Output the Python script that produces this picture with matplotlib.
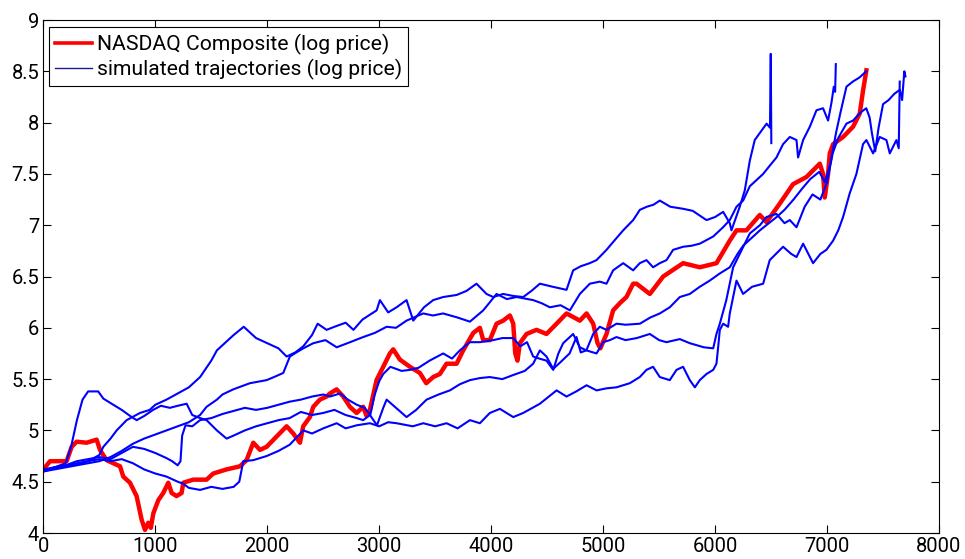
import matplotlib
matplotlib.use("Agg")
import matplotlib.pyplot as plt
from matplotlib.ticker import FormatStrFormatter

# NASDAQ composite, log price
nasdaq_x = [0, 60, 208, 253, 298, 387, 476, 506, 565, 625, 685, 714, 774, 833, 878, 908,
            937, 960, 982, 1027, 1071, 1116, 1146, 1190, 1235, 1250, 1339, 1458, 1518,
            1637, 1756, 1815, 1875, 1935, 1994, 2083, 2173, 2232, 2292, 2321, 2381, 2411,
            2470, 2530, 2560, 2619, 2679, 2738, 2798, 2857, 2887, 2917, 2976, 3036, 3095,
            3125, 3185, 3274, 3363, 3420, 3482, 3542, 3601, 3691, 3750, 3840, 3899, 3929,
            3988, 4048, 4107, 4167, 4197, 4215, 4235, 4256, 4316, 4405, 4494, 4584, 4673,
            4792, 4852, 4911, 4950, 4975, 5030, 5089, 5149, 5208, 5268, 5298, 5417, 5536,
            5714, 5863, 6012, 6131, 6191, 6280, 6399, 6459, 6577, 6696, 6816, 6935, 6964,
            6979, 7009, 7024, 7054, 7143, 7232, 7292, 7321, 7351]
nasdaq_y = [4.62, 4.70, 4.70, 4.84, 4.89, 4.88, 4.91, 4.81, 4.71, 4.68, 4.65, 4.55, 4.49,
            4.36, 4.13, 4.03, 4.10, 4.05, 4.19, 4.32, 4.39, 4.49, 4.39, 4.36, 4.39, 4.49,
            4.52, 4.52, 4.58, 4.62, 4.65, 4.71, 4.88, 4.81, 4.84, 4.94, 5.04, 4.97, 4.88,
            5.04, 5.13, 5.23, 5.30, 5.33, 5.36, 5.40, 5.33, 5.23, 5.17, 5.23, 5.14, 5.20,
            5.49, 5.62, 5.75, 5.79, 5.69, 5.62, 5.56, 5.46, 5.52, 5.55, 5.65, 5.65, 5.78,
            5.95, 6.00, 5.88, 5.88, 6.04, 6.07, 6.12, 6.04, 5.75, 5.68, 5.85, 5.94, 5.98,
            5.94, 6.04, 6.14, 6.07, 6.14, 6.04, 5.85, 5.80, 5.94, 6.17, 6.24, 6.30, 6.43,
            6.43, 6.33, 6.50, 6.63, 6.59, 6.63, 6.85, 6.95, 6.95, 7.10, 7.03, 7.21, 7.40,
            7.47, 7.60, 7.50, 7.27, 7.50, 7.70, 7.79, 7.86, 7.96, 8.09, 8.31, 8.51]

# simulated trajectories, log price
sim1_x = [0, 100, 200, 300, 400, 500, 536, 600, 655, 744, 863, 950, 1000, 1100, 1200, 1300,
          1400, 1500, 1550, 1600, 1700, 1790, 1850, 1900, 2000, 2100, 2173, 2250, 2322,
          2400, 2450, 2530, 2600, 2700, 2770, 2850, 2920, 2977, 3006, 3080, 3155, 3244,
          3304, 3400, 3482, 3571, 3691, 3780, 3869, 3958, 4018, 4107, 4200, 4286, 4360,
          4435, 4550, 4673, 4732, 4800, 4880, 4941, 5030, 5100, 5179, 5268, 5328, 5390,
          5450, 5506, 5600, 5714, 5800, 5923, 6000, 6072, 6131, 6146, 6220, 6265, 6310,
          6354, 6400, 6460, 6490, 6497, 6502]
sim1_y = [4.62, 4.64, 4.66, 4.68, 4.70, 4.76, 4.84, 4.92, 5.00, 5.10, 5.17, 5.20, 5.25,
          5.30, 5.36, 5.42, 5.52, 5.68, 5.78, 5.83, 5.93, 6.01, 5.95, 5.90, 5.85, 5.80,
          5.72, 5.76, 5.82, 5.93, 6.04, 5.98, 6.01, 6.05, 5.98, 6.08, 6.13, 6.17, 6.27,
          6.15, 6.20, 6.27, 6.07, 6.20, 6.27, 6.30, 6.32, 6.36, 6.43, 6.33, 6.30, 6.33,
          6.31, 6.30, 6.36, 6.43, 6.40, 6.37, 6.56, 6.60, 6.63, 6.66, 6.76, 6.85, 6.95,
          7.05, 7.15, 7.18, 7.20, 7.24, 7.18, 7.16, 7.14, 7.05, 7.08, 7.13, 7.02, 6.95,
          7.18, 7.34, 7.63, 7.83, 7.90, 7.99, 7.95, 8.67, 7.80]

sim2_x = [0, 100, 200, 300, 400, 500, 600, 700, 800, 900, 1000, 1100, 1200, 1300, 1400,
          1458, 1550, 1600, 1696, 1845, 1994, 2060, 2143, 2202, 2260, 2322, 2411, 2520,
          2620, 2740, 2857, 2960, 3066, 3150, 3244, 3393, 3480, 3571, 3700, 3810, 3929,
          4048, 4140, 4227, 4375, 4450, 4524, 4620, 4703, 4792, 4881, 4970, 5030, 5089,
          5179, 5268, 5327, 5387, 5446, 5506, 5566, 5625, 5714, 5790, 5863, 5983, 6071,
          6131, 6191, 6250, 6310, 6370, 6429, 6488, 6548, 6607, 6667, 6727, 6741, 6786,
          6846, 6905, 6964, 7009, 7040, 7060, 7072, 7078]
sim2_y = [4.60, 4.62, 4.64, 4.66, 4.68, 4.70, 4.74, 4.80, 4.87, 4.92, 4.96, 5.00, 5.04,
          5.08, 5.15, 5.23, 5.30, 5.35, 5.40, 5.46, 5.49, 5.52, 5.56, 5.72, 5.76, 5.80,
          5.85, 5.88, 5.81, 5.86, 5.91, 5.95, 6.01, 6.00, 6.07, 6.14, 6.12, 6.14, 6.10,
          6.06, 6.17, 6.33, 6.28, 6.30, 6.27, 6.24, 6.20, 6.22, 6.17, 6.33, 6.43, 6.45,
          6.43, 6.56, 6.63, 6.56, 6.63, 6.66, 6.59, 6.63, 6.66, 6.76, 6.79, 6.80, 6.82,
          6.89, 6.98, 7.05, 7.18, 7.24, 7.38, 7.44, 7.50, 7.58, 7.66, 7.79, 7.86, 7.83,
          7.66, 7.83, 7.96, 8.12, 8.14, 8.02, 8.20, 8.35, 8.30, 8.57]

sim3_x = [0, 100, 200, 300, 400, 500, 600, 700, 800, 900, 1000, 1100, 1150, 1200, 1225,
          1240, 1270, 1330, 1400, 1500, 1600, 1700, 1800, 1900, 2000, 2100, 2200, 2300,
          2400, 2500, 2560, 2650, 2720, 2800, 2870, 2920, 2960, 3000, 3036, 3100, 3200,
          3274, 3350, 3450, 3571, 3650, 3720, 3810, 3900, 4018, 4100, 4197, 4260, 4320,
          4375, 4430, 4494, 4554, 4600, 4643, 4732, 4792, 4850, 4911, 4970, 5030, 5119,
          5200, 5328, 5420, 5506, 5595, 5685, 5774, 5863, 5952, 6042, 6131, 6200, 6250,
          6330, 6400, 6480, 6550, 6620, 6700, 6780, 6850, 6930, 6980, 7030, 7080, 7120,
          7173, 7230, 7290, 7350]
sim3_y = [4.61, 4.64, 4.66, 4.70, 4.72, 4.74, 4.72, 4.78, 4.84, 4.82, 4.78, 4.73, 4.70,
          4.66, 4.70, 4.95, 5.05, 5.04, 5.10, 5.12, 5.16, 5.19, 5.22, 5.20, 5.22, 5.25,
          5.28, 5.30, 5.33, 5.35, 5.33, 5.36, 5.30, 5.25, 5.22, 5.15, 5.35, 5.48, 5.55,
          5.62, 5.58, 5.59, 5.61, 5.68, 5.75, 5.70, 5.78, 5.86, 5.86, 5.88, 5.90, 5.90,
          5.82, 5.86, 5.72, 5.70, 5.68, 5.59, 5.75, 5.85, 5.94, 5.81, 5.78, 5.94, 6.01,
          5.98, 6.04, 6.03, 6.04, 6.10, 6.14, 6.20, 6.30, 6.33, 6.40, 6.46, 6.53, 6.59,
          6.72, 6.80, 6.88, 6.95, 7.02, 7.08, 7.15, 7.25, 7.36, 7.45, 7.52, 7.42, 7.60,
          7.90, 8.10, 8.35, 8.40, 8.44, 8.50]

sim4_x = [0, 100, 200, 250, 300, 350, 400, 490, 536, 610, 700, 789, 834, 900, 980, 1050,
          1130, 1200, 1280, 1330, 1400, 1458, 1550, 1637, 1700, 1800, 1900, 2000, 2100,
          2200, 2300, 2400, 2500, 2600, 2700, 2800, 2857, 2917, 2980, 3036, 3066, 3150,
          3244, 3330, 3423, 3530, 3631, 3720, 3810, 3899, 3988, 4100, 4197, 4300, 4375,
          4435, 4494, 4554, 4614, 4700, 4762, 4800, 4850, 4941, 5000, 5060, 5119, 5200,
          5300, 5417, 5500, 5565, 5685, 5774, 5900, 5983, 6012, 6042, 6100, 6161, 6220,
          6310, 6400, 6459, 6548, 6620, 6667, 6727, 6800, 6870, 6940, 7000, 7050, 7100,
          7173, 7232, 7300, 7350, 7380, 7400, 7430, 7460, 7500, 7550, 7600, 7650, 7670,
          7690, 7700]
sim4_y = [4.60, 4.64, 4.68, 4.85, 5.10, 5.30, 5.38, 5.38, 5.31, 5.26, 5.20, 5.13, 5.10,
          5.14, 5.20, 5.24, 5.22, 5.24, 5.26, 5.15, 5.12, 5.10, 5.00, 4.92, 4.95, 5.00,
          5.04, 5.07, 5.10, 5.12, 5.18, 5.15, 5.17, 5.20, 5.15, 5.12, 5.10, 5.15, 5.05,
          5.22, 5.30, 5.22, 5.13, 5.20, 5.30, 5.35, 5.39, 5.45, 5.49, 5.51, 5.52, 5.50,
          5.54, 5.58, 5.65, 5.78, 5.72, 5.60, 5.66, 5.75, 5.91, 5.76, 5.78, 5.75, 5.86,
          5.88, 5.91, 5.88, 5.90, 5.94, 5.88, 5.86, 5.89, 5.85, 5.81, 5.80, 5.94, 6.04,
          6.27, 6.59, 6.72, 6.92, 7.00, 7.08, 7.11, 7.02, 7.05, 6.98, 7.18, 7.30, 7.25,
          7.42, 7.70, 7.85, 7.99, 8.02, 8.10, 8.14, 8.05, 7.90, 7.72, 7.95, 8.18, 8.22,
          8.28, 8.32, 8.22, 8.50, 8.45]

sim5_x = [0, 100, 200, 300, 400, 500, 600, 700, 800, 900, 1000, 1100, 1200, 1250, 1300,
          1400, 1500, 1600, 1700, 1750, 1786, 1875, 1994, 2100, 2200, 2322, 2400, 2500,
          2620, 2700, 2800, 2917, 3000, 3080, 3155, 3300, 3393, 3500, 3601, 3700, 3810,
          3899, 3988, 4078, 4197, 4286, 4435, 4584, 4673, 4760, 4852, 4941, 5030, 5119,
          5238, 5327, 5387, 5446, 5506, 5595, 5655, 5714, 5774, 5819, 5863, 5923, 5983,
          6012, 6027, 6042, 6072, 6116, 6131, 6161, 6191, 6250, 6330, 6429, 6488, 6607,
          6680, 6727, 6786, 6875, 6940, 6994, 7054, 7100, 7143, 7202, 7262, 7321, 7351,
          7411, 7470, 7530, 7560, 7619, 7640, 7649]
sim5_y = [4.60, 4.63, 4.65, 4.67, 4.70, 4.72, 4.70, 4.72, 4.68, 4.62, 4.58, 4.55, 4.50,
          4.48, 4.44, 4.42, 4.45, 4.43, 4.45, 4.50, 4.70, 4.71, 4.75, 4.80, 4.86, 5.00,
          4.97, 5.02, 5.07, 5.02, 5.05, 5.07, 5.04, 5.08, 5.07, 5.04, 5.07, 5.04, 5.07,
          5.02, 5.10, 5.07, 5.17, 5.21, 5.13, 5.17, 5.26, 5.39, 5.33, 5.38, 5.44, 5.39,
          5.41, 5.42, 5.46, 5.52, 5.59, 5.62, 5.52, 5.49, 5.59, 5.62, 5.49, 5.42, 5.49,
          5.55, 5.59, 5.65, 5.81, 5.98, 6.04, 6.01, 6.14, 6.30, 6.46, 6.33, 6.40, 6.43,
          6.66, 6.79, 6.72, 6.69, 6.82, 6.63, 6.72, 6.76, 6.85, 6.95, 7.08, 7.31, 7.50,
          7.79, 7.83, 7.70, 7.86, 7.83, 7.70, 7.83, 7.75, 8.40]

sims = [(sim1_x, sim1_y), (sim2_x, sim2_y), (sim3_x, sim3_y),
        (sim4_x, sim4_y), (sim5_x, sim5_y)]

plt.rcParams['font.family'] = ['Roboto', 'DejaVu Sans']

fig = plt.figure(figsize=(9.65, 5.59), dpi=100)
ax = fig.add_axes([0.0449, 0.0465, 0.9282, 0.9177])

ax.plot(nasdaq_x, nasdaq_y, color=(1, 0, 0), lw=3.2,
        label="NASDAQ Composite (log price)")
for i, (sx, sy) in enumerate(sims):
    ax.plot(sx, sy, color=(0, 0, 1), lw=1.5,
            label="simulated trajectories (log price)" if i == 0 else None)

ax.set_xlim(0, 8000)
ax.set_ylim(4, 9)
ax.set_xticks(range(0, 8001, 1000))
ax.set_yticks([4 + 0.5 * k for k in range(11)])
ax.yaxis.set_major_formatter(FormatStrFormatter('%g'))
ax.tick_params(direction='in', length=6, width=0.8, top=True, right=True,
               labelsize=14.5, pad=3)
for sp in ax.spines.values():
    sp.set_linewidth(0.8)

leg = ax.legend(loc='upper left', bbox_to_anchor=(0.0064, 0.9858),
                borderaxespad=0, fontsize=15.2, fancybox=False, framealpha=1,
                edgecolor='black', handlelength=1.75, handletextpad=0.2,
                borderpad=0.3, labelspacing=0.2)
leg.get_frame().set_linewidth(0.8)
leg.get_lines()[0].set_linewidth(2.6)
leg.get_lines()[1].set_linewidth(1.0)
leg.get_lines()[1].set_color((0.1, 0.1, 0.6))

fig.savefig("out.png", dpi=100)
